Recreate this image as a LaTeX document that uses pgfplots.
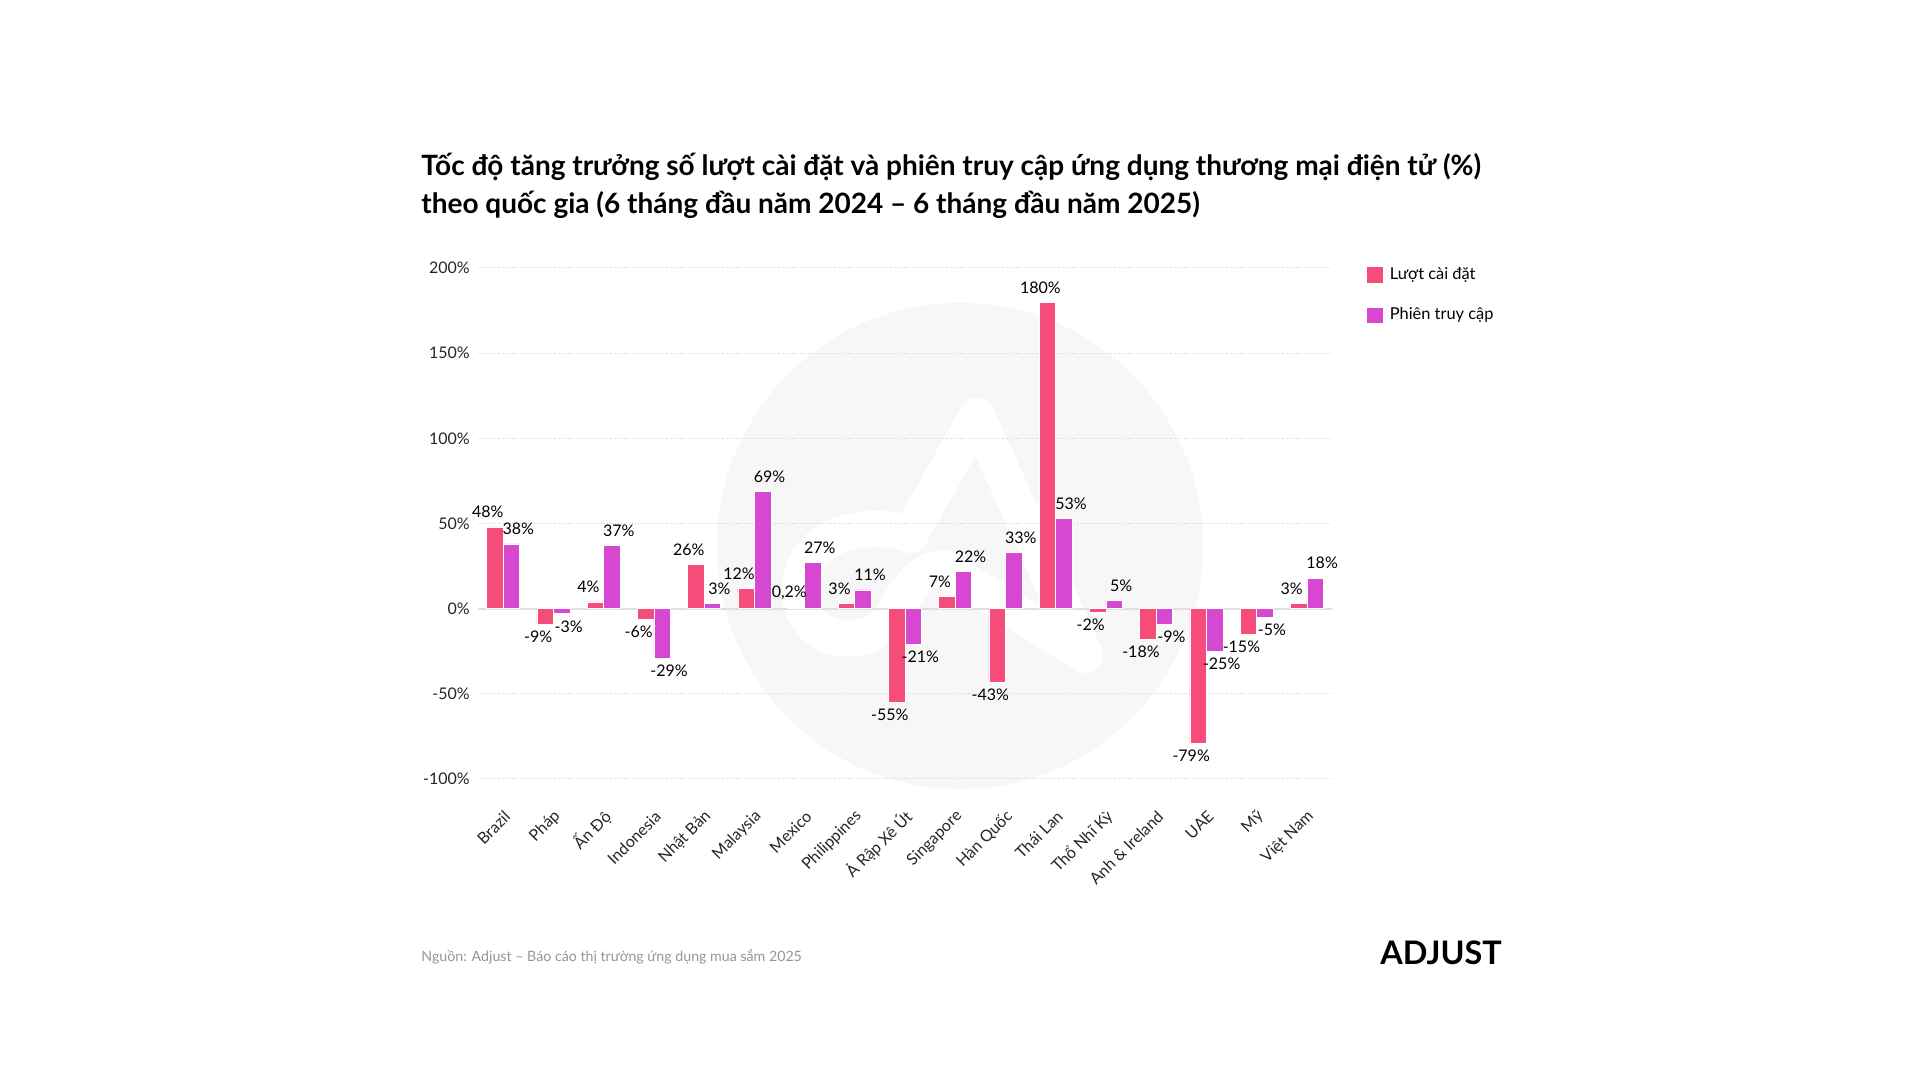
\documentclass[border=0pt]{standalone}
\usepackage{fontspec}
\setmainfont{Lato}
\usepackage{pgfplots}
\pgfplotsset{compat=1.18}
\definecolor{cinst}{RGB}{246,76,122}
\definecolor{csess}{RGB}{213,72,207}
\definecolor{wm}{RGB}{247,247,247}
\definecolor{srcgray}{RGB}{150,150,150}
\begin{document}
\begin{tikzpicture}
\fill[white] (0,0) rectangle (960pt,540pt);
\useasboundingbox (0,0) rectangle (960pt,540pt);
\begin{scope}[shift={(0pt,540pt)}, x=0.5pt, y=-0.5pt]
\fill[wm] (960,546) circle [radius=121.5pt];
\draw[white, line width=18pt, line cap=round, line join=round]
  (1085,655) -- (977,416) -- (910,535)
  .. controls (875,520) and (800,530) .. (800,590)
  .. controls (800,645) and (870,655) .. (895,612)
  .. controls (905,592) and (920,568) .. (945,568) -- (1085,655);
\end{scope}
\node[anchor=base west, inner sep=0pt, font=\fontsize{14}{19}\selectfont\bfseries] at (210.5pt,452pt) {Tốc độ tăng trưởng số lượt cài đặt và phiên truy cập ứng dụng thương mại điện tử (\%)};
\node[anchor=base west, inner sep=0pt, font=\fontsize{14}{19}\selectfont\bfseries] at (210.5pt,433pt) {theo quốc gia (6 tháng đầu năm 2024 – 6 tháng đầu năm 2025)};
\node[anchor=base west, inner sep=0pt, font=\fontsize{7.1}{9}\selectfont, text=srcgray] at (210.5pt,59pt) {Nguồn: Adjust – Báo cáo thị trường ứng dụng mua sắm 2025};
\node[anchor=base west, inner sep=0pt, font=\fontsize{16.2}{20}\selectfont\bfseries] at (690pt,57.5pt) {ADJUST};
\begin{axis}[
  at={(239pt,150.5pt)}, anchor=south west,
  scale only axis, width=427pt, height=255.5pt,
  ybar=0pt, bar width=8.25pt,
  xmin=-0.5, xmax=16.5, ymin=-100, ymax=200,
  xtick={0,...,16},
  xticklabels={Brazil, Pháp, Ấn Độ, Indonesia, Nhật Bản, Malaysia, Mexico, Philippines, Ả Rập Xê Út, Singapore, Hàn Quốc, Thái Lan, Thổ Nhĩ Kỳ, Anh \& Ireland, UAE, Mỹ, Việt Nam},
  ytick={-100,-50,0,50,100,150,200},
  yticklabel={\pgfmathprintnumber{\tick}\%},
  /pgf/number format/assume math mode=true,
  ymajorgrids, grid style={densely dotted, black!18, line width=0.5pt},
  axis line style={draw=none}, tick style={draw=none},
  tick label style={font=\fontsize{8}{9}\selectfont, text=black!85},
  yticklabel style={xshift=-0.6pt},
  xticklabel style={xshift=2.2pt, yshift=-13pt, rotate=45, anchor=east, inner sep=0pt},
  nodes near coords={\pgfmathprintnumber[use comma,fixed,precision=1]{\pgfplotspointmeta}\%},
  nodes near coords align={vertical},
  every node near coord/.append style={font=\fontsize{8}{9}\selectfont, text=black, inner xsep=1pt, inner ysep=3.8pt, yshift=0.5pt},
  extra y ticks={0}, extra y tick labels={},
  extra y tick style={grid style={solid, black!12, line width=1pt}},
  clip=false,
  legend style={at={(1.0405,1.010)}, anchor=north west, draw=none, fill=none,
    font=\fontsize{8.2}{9}\selectfont, row sep=8.6pt, inner sep=0pt,
    /tikz/every odd column/.append style={column sep=1.8pt}},
  legend cell align=left,
]
\addplot[fill=cinst, draw=white, line width=0.3pt,
  every node near coord/.append style={xshift=-3.5pt},
  legend image code/.code={\fill[cinst] (0pt,-3.65pt) rectangle (7.3pt,3.65pt);}]
  coordinates {(0,48) (1,-9) (2,4) (3,-6) (4,26) (5,12) (6,0.2) (7,3) (8,-55) (9,7) (10,-43) (11,180) (12,-2) (13,-18) (14,-79) (15,-15) (16,3)};
\addplot[fill=csess, draw=white, line width=0.3pt,
  every node near coord/.append style={xshift=3.5pt},
  legend image code/.code={\fill[csess] (0pt,-3.65pt) rectangle (7.3pt,3.65pt);}]
  coordinates {(0,38) (1,-3) (2,37) (3,-29) (4,3) (5,69) (6,27) (7,11) (8,-21) (9,22) (10,33) (11,53) (12,5) (13,-9) (14,-25) (15,-5) (16,18)};
\legend{Lượt cài đặt, Phiên truy cập}
\end{axis}
\end{tikzpicture}
\end{document}
